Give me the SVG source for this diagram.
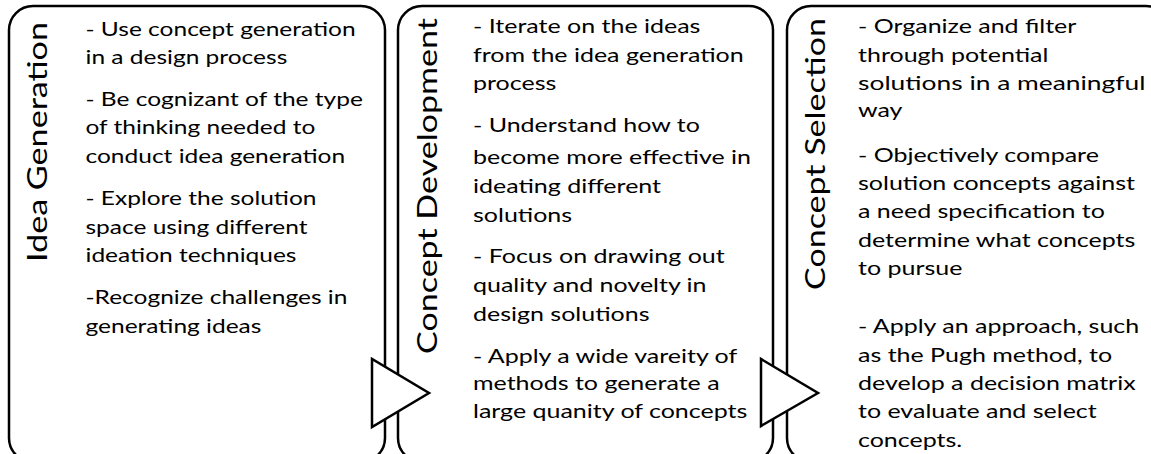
<svg xmlns="http://www.w3.org/2000/svg" width="1151" height="454" viewBox="0 0 1151 454">
  <style>
    .panel { fill: #ffffff; stroke: #000000; stroke-width: 2.5; }
    .title { font-family: "Lato", "Open Sans", sans-serif; font-size: 26px; fill: #000000; }
    .body { font-family: "Lato", "Open Sans", sans-serif; font-size: 20px; fill: #000000; }
    .arrow { fill: #ffffff; stroke: #000000; stroke-width: 2.5; stroke-linejoin: miter; }
  </style>
  <rect width="1151" height="454" fill="#ffffff"/>

  <!-- Stage 1 -->
  <g id="idea-generation">
    <rect class="panel" x="9" y="6" width="376" height="456" rx="24" ry="24"/>
    <text class="title" transform="translate(47 262) rotate(-90)" textLength="240" lengthAdjust="spacingAndGlyphs">Idea Generation</text>
    <g class="body" transform="translate(85.5 0) scale(1.225 1)">
      <text x="0" y="36">- Use concept generation</text>
      <text x="0" y="64">in a design process</text>
      <text x="0" y="106">- Be cognizant of the type</text>
      <text x="0" y="134">of thinking needed to</text>
      <text x="0" y="163">conduct idea generation</text>
      <text x="0" y="205">- Explore the solution</text>
      <text x="0" y="234">space using different</text>
      <text x="0" y="262">ideation techniques</text>
      <text x="0" y="304">-Recognize challenges in</text>
      <text x="0" y="333">generating ideas</text>
    </g>
  </g>

  <!-- Stage 2 -->
  <g id="concept-development">
    <rect class="panel" x="398" y="6" width="375" height="456" rx="24" ry="24"/>
    <text class="title" transform="translate(437 354) rotate(-90)" textLength="336" lengthAdjust="spacingAndGlyphs">Concept Development</text>
    <g class="body" transform="translate(473 0) scale(1.25 1)">
      <text x="0" y="33">- Iterate on the ideas</text>
      <text x="0" y="62">from the idea generation</text>
      <text x="0" y="90">process</text>
      <text x="0" y="132">- Understand how to</text>
      <text x="0" y="164">become more effective in</text>
      <text x="0" y="193">ideating different</text>
      <text x="0" y="222">solutions</text>
      <text x="0" y="263">- Focus on drawing out</text>
      <text x="0" y="292">quality and novelty in</text>
      <text x="0" y="321">design solutions</text>
      <text x="0" y="363">- Apply a wide vareity of</text>
      <text x="0" y="390">methods to generate a</text>
      <text x="0" y="418">large quanity of concepts</text>
    </g>
  </g>

  <!-- Stage 3 -->
  <g id="concept-selection">
    <rect class="panel" x="787" y="6" width="383" height="456" rx="24" ry="24"/>
    <text class="title" transform="translate(825 290) rotate(-90)" textLength="272" lengthAdjust="spacingAndGlyphs">Concept Selection</text>
    <g class="body" transform="translate(858 0) scale(1.25 1)">
      <text x="0" y="33">- Organize and filter</text>
      <text x="0" y="62">through potential</text>
      <text x="0" y="90" textLength="230" lengthAdjust="spacingAndGlyphs">solutions in a meaningful</text>
      <text x="0" y="117">way</text>
      <text x="0" y="162">- Objectively compare</text>
      <text x="0" y="190">solution concepts against</text>
      <text x="0" y="218">a need specification to</text>
      <text x="0" y="247">determine what concepts</text>
      <text x="0" y="275">to pursue</text>
      <text x="0" y="333">- Apply an approach, such</text>
      <text x="0" y="362">as the Pugh method, to</text>
      <text x="0" y="390">develop a decision matrix</text>
      <text x="0" y="418">to evaluate and select</text>
      <text x="0" y="447">concepts.</text>
    </g>
  </g>

  <!-- Flow arrows between stages -->
  <g id="connectors">
    <polygon class="arrow" points="372,359 372,427 429,393"/>
    <polygon class="arrow" points="761,359 761,426 818,393"/>
  </g>
</svg>
